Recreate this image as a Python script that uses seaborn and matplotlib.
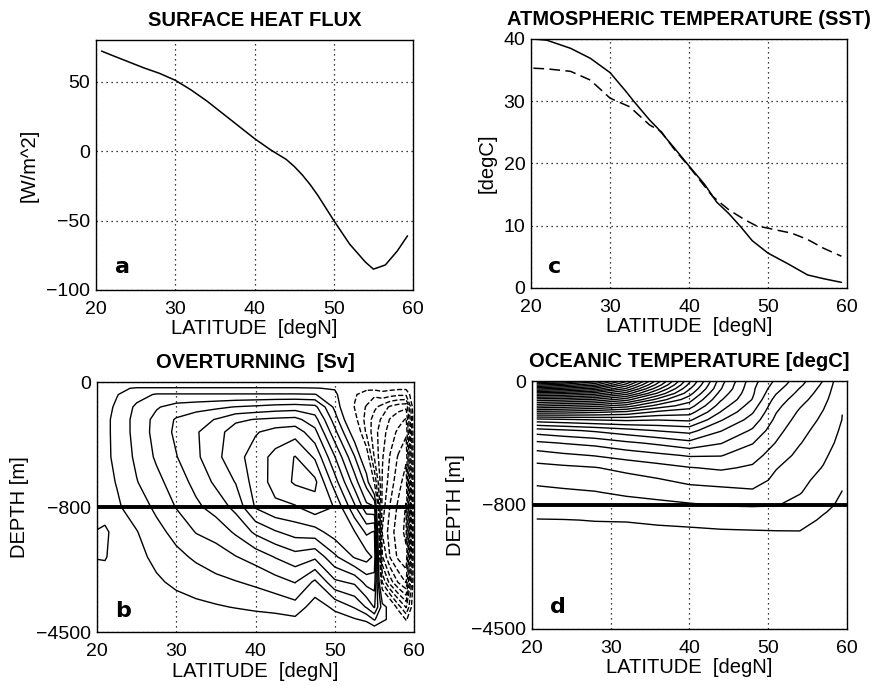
import matplotlib
matplotlib.use("Agg")
import matplotlib.pyplot as plt
import numpy as np
import seaborn as sns

# ---------------------------------------------------------------------------
# Data
# ---------------------------------------------------------------------------

# (a) surface heat flux
LAT_A = [20.7, 22, 24, 26, 28, 30, 32, 34, 36, 38, 40, 42, 44, 45, 46, 47,
         48, 50, 52, 54, 55, 56.5, 58, 59.3]
FLUX_A = [72, 69, 64.5, 60, 56, 51, 44, 36, 27, 18, 9, 1, -6, -11, -17, -24,
          -32, -50, -67, -80, -85, -82, -72, -61]

# (c) temperatures
LAT_SST = [20.3, 22, 25, 27.5, 30, 32, 33, 35, 36, 38, 40, 42, 43.5, 45, 46.5,
           48, 50, 52.5, 55, 57, 59.3]
SST = [40, 39.8, 38.5, 36.9, 34.6, 31.6, 30, 27, 25.7, 22.7, 19.6, 16.6, 13.8,
       12, 9.9, 7.6, 5.6, 3.9, 2.1, 1.5, 0.9]
LAT_ATM = [20.3, 22, 25, 27.5, 30, 32.5, 35, 36.5, 38, 40, 41.5, 43, 45, 47,
           48.5, 50, 53, 55, 57, 59.3]
ATM = [35.3, 35.2, 34.8, 33.4, 30.5, 29.1, 26.2, 25.1, 22.5, 19.5, 17.1, 14.7,
       12.6, 11, 10.0, 9.6, 8.8, 7.8, 6.4, 5.1]

# (b) overturning streamfunction [Sv], one list per latitude (surface -> bottom)
LAT_B = [20, 21, 22.5, 25, 27.5, 30, 32.5, 35, 37.5, 40, 42.5, 45, 47.5, 50,
         52.5, 54, 55, 56, 57, 58, 59, 60]
DEPTH_B = [0, 40, 80, 160, 240, 320, 480, 640, 800, 1540, 2280, 3020, 3760,
           4130, 4500]
PSI = [
    [0, 0, 0, 0, 0, 0, 0, 0, 0, 1.1, 1.1, 0, 0, 0, 0],
    [0, 0.4, 0.6, 0.7, 0.75, 0.75, 0.75, 0.7, 0.6, 1.15, 1.1, 0.4, 0.2, 0.1, 0],
    [0, 0.8, 0.95, 1.15, 1.3, 1.3, 1.25, 1.05, 0.85, 0.7, 0.5, 0.35, 0.2, 0.1, 0],
    [0, 1.1, 1.6, 2.2, 2.35, 2.35, 2.2, 1.95, 1.5, 0.95, 0.7, 0.5, 0.3, 0.15, 0],
    [0, 1.1, 2.1, 2.9, 3.3, 3.35, 3.15, 2.7, 2.2, 1.7, 1.25, 0.85, 0.45, 0.2, 0],
    [0, 1.1, 2.1, 3.4, 4.1, 4.2, 3.95, 3.5, 3.05, 2.3, 1.75, 1.2, 0.6, 0.3, 0],
    [0, 1.1, 2.1, 3.6, 4.6, 4.9, 4.8, 4.3, 3.8, 3.05, 2.15, 1.5, 0.75, 0.35, 0],
    [0, 1.1, 2.1, 3.8, 5.05, 5.6, 5.75, 5.2, 4.4, 3.4, 2.5, 1.75, 0.9, 0.45, 0],
    [0, 1.1, 2.1, 4.05, 5.8, 6.5, 6.6, 6.05, 5.3, 4.15, 2.95, 1.95, 1.05, 0.5, 0],
    [0, 1.1, 2.1, 4.2, 6.05, 6.9, 7.5, 7.45, 7.1, 5.2, 3.4, 2.2, 1.2, 0.6, 0],
    [0, 1.1, 2.1, 4.4, 6.2, 7.4, 8.3, 8.35, 7.8, 5.9, 4.05, 2.6, 1.3, 0.7, 0],
    [0, 1.1, 2.1, 4.5, 6.3, 7.6, 9.05, 9.15, 7.9, 6.4, 4.6, 3.05, 1.6, 0.8, 0],
    [0, 1.05, 2.05, 4.3, 5.4, 6.3, 7.85, 9.25, 8.6, 6.6, 4.2, 1.8, 0.5, 0.25, 0],
    [0, 0.9, 1.3, 1.75, 2.5, 3.3, 5.05, 6.45, 7.95, 7.5, 5.8, 3.8, 1.2, 0.6, 0],
    [0, -0.4, -0.9, -1.05, -0.6, 0.3, 2.05, 3.5, 5.2, 7.05, 7.1, 4.2, 2.1, 0.9, 0],
    [0, -0.8, -1.4, -2.1, -2.4, -2.2, -0.2, 1.6, 3.3, 5.8, 7.4, 5.4, 3.1, 1.2, 0],
    [0, -0.7, -1.8, -2.8, -3.4, -3.6, -3.1, -1.1, 3.1, 6.1, 6.8, 5.5, 4.1, 2.1, 0],
    [0, -0.6, -1.4, -3.4, -4.2, -4.6, -4.9, -5.1, -5.5, -6.1, -4.9, -2.1, 1.5, 1.2, 0],
    [0, -0.7, -1.6, -4.2, -5.1, -5.5, -6.1, -6.5, -7.1, -7.5, -7.1, -4.5, 0.5, 0.8, 0],
    [0, -0.8, -1.8, -4.6, -5.6, -6.2, -7.1, -7.6, -8.2, -8.6, -8.2, -6.1, -1.5, 0.5, 0],
    [0, -0.8, -1.8, -4.8, -6.1, -6.8, -7.8, -8.5, -9.1, -9.2, -8.8, -7.1, -3.1, -1.1, 0],
    [0, 0, 0, 0, 0, 0, 0, 0, 0, 0, 0, 0, 0, 0, 0],
]
PSI_LEVELS = [-9, -8, -7, -6, -5, -4, -3, -2, -1, 1, 2, 3, 4, 5, 6, 7, 8, 9]

# (d) ocean temperature [degC], one list per latitude (surface -> bottom)
LAT_D = [20.6, 24, 28, 32, 36, 40, 44, 48, 51, 54, 57, 59.4]
DEPTH_D = [0, 25, 50, 80, 120, 160, 200, 250, 320, 400, 480, 560, 640, 720,
           800, 1000, 1250, 1600, 2500, 4500]
TEMP = [
    [34.2, 31.2, 28.2, 24.5, 20.5, 17.2, 13.6, 9.6, 6.5, 4.8, 3.5, 2.7, 2.2, 1.75, 1.4, 1.2, 0.97, 0.8, 0.6, 0.5],
    [33.6, 30.5, 27.6, 24.2, 20.3, 16.8, 13.5, 9.8, 6.8, 5.05, 3.8, 2.8, 2.3, 1.85, 1.45, 1.25, 0.98, 0.82, 0.62, 0.5],
    [31.5, 29.2, 26.6, 23.5, 19.8, 16.4, 13.2, 10.05, 7.15, 5.3, 4.05, 2.95, 2.4, 1.95, 1.5, 1.3, 1.02, 0.83, 0.63, 0.5],
    [27.2, 25.5, 23.8, 21.5, 18.4, 15.5, 12.8, 10.2, 7.6, 5.8, 4.4, 3.3, 2.6, 2.15, 1.65, 1.4, 1.03, 0.85, 0.65, 0.5],
    [21.5, 20.5, 19.3, 17.8, 15.6, 13.6, 11.8, 10.05, 8.05, 6.2, 4.75, 3.6, 2.9, 2.3, 1.78, 1.5, 1.1, 0.87, 0.66, 0.5],
    [16.2, 15.7, 15.1, 14.4, 13.4, 12.5, 11.45, 10.2, 8.35, 6.7, 5.1, 3.95, 3.25, 2.55, 1.9, 1.6, 1.15, 0.9, 0.67, 0.5],
    [11.4, 11.2, 11.05, 10.6, 10.1, 9.5, 8.95, 8.1, 7.05, 6.05, 5.05, 4.15, 3.35, 2.7, 2.05, 1.72, 1.25, 0.93, 0.68, 0.5],
    [8.4, 8.3, 8.2, 8.15, 7.95, 7.5, 7.1, 6.6, 5.85, 5.05, 4.4, 3.85, 3.5, 2.8, 2.08, 1.75, 1.3, 0.95, 0.7, 0.5],
    [6.8, 6.6, 6.35, 6.05, 5.6, 5.3, 5.05, 4.75, 4.35, 3.95, 3.5, 3.05, 2.75, 2.45, 2.05, 1.7, 1.3, 0.97, 0.7, 0.5],
    [5.4, 5.2, 4.95, 4.7, 4.4, 4.1, 3.85, 3.6, 3.3, 3.05, 2.75, 2.5, 2.25, 2.05, 1.7, 1.5, 1.25, 0.98, 0.72, 0.5],
    [3.95, 3.8, 3.65, 3.5, 3.3, 3.1, 2.95, 2.8, 2.6, 2.4, 2.15, 1.95, 1.7, 1.5, 1.2, 1.05, 0.9, 0.8, 0.65, 0.5],
    [2.2, 2.17, 2.13, 2.1, 2.07, 2.04, 2.01, 1.98, 1.85, 1.7, 1.55, 1.35, 1.15, 0.97, 0.85, 0.8, 0.75, 0.7, 0.6, 0.5],
]
TEMP_LEVELS = list(range(1, 35))

LAT_TICKS = [20, 30, 40, 50, 60]
DEPTH_TICKS = [-4500, -800, 0]
DIVIDE_DEPTH = -800

# ---------------------------------------------------------------------------
# Style
# ---------------------------------------------------------------------------

sns.set_theme(style="white")
plt.rcParams["font.family"] = ["Liberation Sans", "DejaVu Sans"]
plt.rcParams.update({
    "axes.edgecolor": "black",
    "axes.linewidth": 1.0,
    "xtick.direction": "in",
    "ytick.direction": "in",
    "xtick.major.size": 4,
    "ytick.major.size": 4,
    "xtick.color": "black",
    "ytick.color": "black",
    "xtick.labelsize": 14,
    "ytick.labelsize": 14,
    "axes.labelsize": 14.5,
    "axes.labelcolor": "black",
    "text.color": "black",
})


def depth_fwd(y):
    y = np.asarray(y, dtype=float)
    return np.where(y >= -800, y / 1600.0, -0.5 + (y + 800) / 7400.0)


def depth_inv(s):
    s = np.asarray(s, dtype=float)
    return np.where(s >= -0.5, s * 1600.0, (s + 0.5) * 7400.0 - 800)


def style_axes(ax, title, ylabel, letter, letter_xy, ylab_x):
    ax.set_xlim(20, 60)
    ax.set_xticks(LAT_TICKS)
    ax.set_title(title, fontsize=14.5, fontweight="bold", pad=10)
    ax.set_xlabel("LATITUDE  [degN]")
    ax.set_ylabel(ylabel)
    ax.xaxis.set_label_coords(0.5, -0.118)
    ax.yaxis.set_label_coords(ylab_x, 0.5)
    ax.tick_params(axis="x", pad=8)
    ax.tick_params(axis="y", pad=4)
    ax.grid(True, color="black", linestyle=(0, (1, 3)), linewidth=0.9)
    ax.text(letter_xy[0], letter_xy[1], letter, transform=ax.transAxes,
            fontsize=16, fontweight="bold", family="DejaVu Sans",
            ha="center", va="center")


fig = plt.figure(figsize=(8.77, 6.86), dpi=100)
ax_a = fig.add_axes([0.1095, 0.5773, 0.3615, 0.3644])
ax_c = fig.add_axes([0.6055, 0.5802, 0.3603, 0.3630])
ax_b = fig.add_axes([0.1106, 0.0787, 0.3615, 0.3644])
ax_d = fig.add_axes([0.6066, 0.0831, 0.3592, 0.3615])

# (a)
sns.lineplot(x=LAT_A, y=FLUX_A, ax=ax_a, color="black", linewidth=1.1)
ax_a.set_ylim(-100, 80)
ax_a.set_yticks([-100, -50, 0, 50])
style_axes(ax_a, "SURFACE HEAT FLUX", "[W/m^2]", "a", (0.083, 0.09), -0.18)

# (c)
sns.lineplot(x=LAT_SST, y=SST, ax=ax_c, color="black", linewidth=1.1)
sns.lineplot(x=LAT_ATM, y=ATM, ax=ax_c, color="black", linewidth=1.1,
             linestyle=(0, (7, 3.5)))
ax_c.set_ylim(0, 40)
ax_c.set_yticks([0, 10, 20, 30, 40])
style_axes(ax_c, "ATMOSPHERIC TEMPERATURE (SST)", "[degC]", "c",
           (0.076, 0.085), -0.108)

# (b)
psi = np.array(PSI).T
ax_b.set_yscale("function", functions=(depth_fwd, depth_inv))
ax_b.contour(LAT_B, -np.array(DEPTH_B), psi, levels=PSI_LEVELS,
             colors="black", linewidths=1.0,
             linestyles=["--" if lv < 0 else "-" for lv in PSI_LEVELS])
ax_b.axhline(DIVIDE_DEPTH, color="black", linewidth=2.8, zorder=5)
ax_b.set_ylim(-4500, 0)
ax_b.set_yticks(DEPTH_TICKS)
ax_b.set_yticklabels([str(t).replace("-", "\u2212") for t in DEPTH_TICKS])
ax_b.minorticks_off()
style_axes(ax_b, "OVERTURNING  [Sv]", "DEPTH [m]", "b", (0.083, 0.085), -0.215)

# (d)
temp = np.array(TEMP).T
ax_d.set_yscale("function", functions=(depth_fwd, depth_inv))
ax_d.contour(LAT_D, -np.array(DEPTH_D), temp, levels=TEMP_LEVELS,
             colors="black", linewidths=1.0, linestyles="-")
ax_d.axhline(DIVIDE_DEPTH, color="black", linewidth=2.8, zorder=5)
ax_d.set_ylim(-4500, 0)
ax_d.set_yticks(DEPTH_TICKS)
ax_d.set_yticklabels([str(t).replace("-", "\u2212") for t in DEPTH_TICKS])
ax_d.minorticks_off()
style_axes(ax_d, "OCEANIC TEMPERATURE [degC]", "DEPTH [m]", "d",
           (0.083, 0.09), -0.213)

for ax in (ax_a, ax_b, ax_c, ax_d):
    for sp in ax.spines.values():
        sp.set_visible(True)
        sp.set_color("black")

fig.savefig("out.png", dpi=100)
